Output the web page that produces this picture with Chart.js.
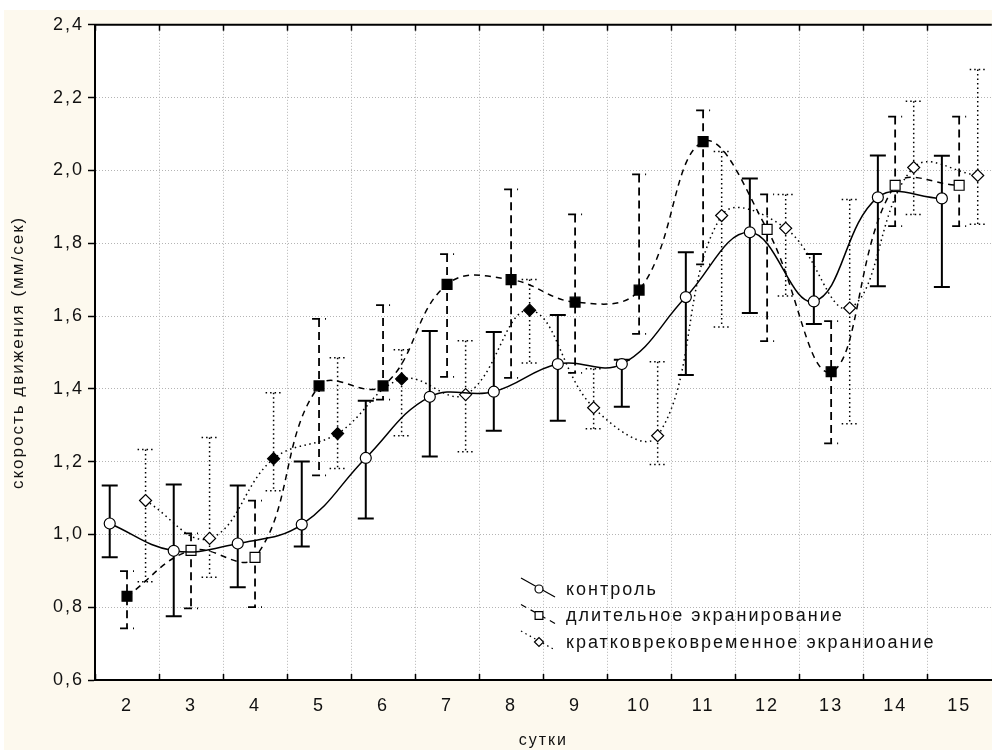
<!DOCTYPE html>
<html lang="ru">
<head>
<meta charset="utf-8">
<title>скорость движения</title>
<script src="https://cdn.jsdelivr.net/npm/chart.js@4.4.1/dist/chart.umd.min.js"></script>
<style>
  html, body { margin: 0; padding: 0; background: #fff; overflow: hidden; }
  #wrap { position: absolute; left: 4px; top: 10px; width: 996px; height: 740px; background: #fdf9ee; }
</style>
</head>
<body>
<div id="wrap"><canvas id="speedChart"></canvas></div>
<script>
// сутки (x categories) and y tick values
const days = [2, 3, 4, 5, 6, 7, 8, 9, 10, 11, 12, 13, 14, 15];
const yTicks = [0.6, 0.8, 1.0, 1.2, 1.4, 1.6, 1.8, 2.0, 2.2, 2.4];

// контроль
const ctrlMean = [1.03, 0.955, 0.975, 1.027, 1.21, 1.378, 1.392, 1.468, 1.468, 1.652, 1.83, 1.64, 1.926, 1.923];
const ctrlHi   = [1.134, 1.137, 1.134, 1.20, 1.367, 1.559, 1.556, 1.603, 1.48, 1.775, 1.978, 1.77, 2.041, 2.04];
const ctrlLo   = [0.937, 0.775, 0.855, 0.967, 1.044, 1.214, 1.285, 1.312, 1.351, 1.438, 1.608, 1.578, 1.682, 1.68];

// длительное экранирование (1 = filled marker)
const longMean = [0.83, 0.956, 0.937, 1.408, 1.408, 1.687, 1.70, 1.638, 1.671, 2.079, 1.838, 1.447, 1.959, 1.959];
const longHi   = [0.899, 1.003, 1.093, 1.592, 1.63, 1.77, 1.948, 1.879, 1.989, 2.165, 1.934, 1.586, 2.148, 2.148];
const longLo   = [0.742, 0.797, 0.80, 1.162, 1.37, 1.433, 1.43, 1.444, 1.551, 1.742, 1.531, 1.25, 1.847, 1.847];
const longSig  = [1, 0, 0, 1, 1, 1, 1, 1, 1, 1, 0, 1, 0, 0];

// кратковременное экранирование
const shortMean = [1.093, 0.989, 1.208, 1.277, 1.427, 1.384, 1.616, 1.348, 1.271, 1.876, 1.841, 1.622, 2.008, 1.986];
const shortHi   = [1.233, 1.266, 1.389, 1.485, 1.507, 1.532, 1.70, 1.455, 1.474, 2.052, 1.934, 1.92, 2.19, 2.277];
const shortLo   = [0.87, 0.882, 1.12, 1.181, 1.271, 1.227, 1.471, 1.29, 1.192, 1.57, 1.655, 1.304, 1.879, 1.852];
const shortSig  = [0, 0, 1, 1, 1, 0, 1, 0, 0, 0, 0, 0, 0, 0];

const FONT = '"Liberation Sans", Arial, sans-serif';
Chart.defaults.font.family = FONT;
Chart.defaults.font.size = 18;
Chart.defaults.color = '#111';

// series are drawn slightly apart inside each day
function points(mean, dx) {
    return days.map((d, i) => ({ x: d + dx, y: mean[i] }));
}

// vertical whiskers with caps, same dash as the series
const errorBars = {
    id: 'errorBars',
    beforeDatasetsDraw(chart) {
        const ctx = chart.ctx;
        const yScale = chart.scales.y;
        chart.data.datasets.forEach((ds, i) => {
            const meta = chart.getDatasetMeta(i);
            ctx.save();
            ctx.strokeStyle = '#000';
            ctx.lineWidth = ds.errWidth;
            ctx.setLineDash(ds.errDash);
            meta.data.forEach((pt, j) => {
                const top = yScale.getPixelForValue(ds.errHi[j]);
                const bot = yScale.getPixelForValue(ds.errLo[j]);
                ctx.beginPath();
                ctx.moveTo(pt.x, top);
                ctx.lineTo(pt.x, bot);
                ctx.moveTo(pt.x - ds.capHalf, top);
                ctx.lineTo(pt.x + ds.capHalf, top);
                ctx.moveTo(pt.x - ds.capHalf, bot);
                ctx.lineTo(pt.x + ds.capHalf, bot);
                ctx.stroke();
            });
            ctx.restore();
        });
    }
};

// white plot area, wide text spacing, top frame and inner ticks
const frame = {
    id: 'frame',
    beforeUpdate(chart) {
        chart.ctx.letterSpacing = '2px';
    },
    beforeDraw(chart) {
        const { ctx, chartArea: a } = chart;
        ctx.letterSpacing = '2px';
        ctx.save();
        ctx.fillStyle = '#fff';
        ctx.fillRect(a.left, a.top, a.right - a.left, a.bottom - a.top);
        ctx.restore();
    },
    afterDraw(chart) {
        const { ctx, chartArea: a } = chart;
        const xScale = chart.scales.x;
        ctx.save();
        ctx.strokeStyle = '#000';
        ctx.lineWidth = 2;
        ctx.beginPath();
        ctx.moveTo(a.left - 1, a.top);
        ctx.lineTo(a.right, a.top);
        ctx.stroke();
        ctx.lineWidth = 1.5;
        ctx.beginPath();
        xScale.ticks.forEach(t => {
            const px = Math.round(xScale.getPixelForValue(t.value)) + 0.5;
            ctx.moveTo(px, a.top);
            ctx.lineTo(px, a.top + 6);
            ctx.moveTo(px, a.bottom);
            ctx.lineTo(px, a.bottom - 6);
        });
        ctx.stroke();
        ctx.restore();
    }
};

// legend drawn inside the plot, Statistica style
const innerLegend = {
    id: 'innerLegend',
    afterDraw(chart, args, opts) {
        const ctx = chart.ctx;
        ctx.save();
        ctx.font = '18px ' + FONT;
        ctx.textBaseline = 'middle';
        ctx.textAlign = 'left';
        chart.data.datasets.forEach((ds, i) => {
            const y = opts.top + i * opts.rowHeight;
            const mx = opts.left;
            ctx.strokeStyle = '#000';
            ctx.lineWidth = 1.2;
            ctx.setLineDash(ds.borderDash);
            ctx.beginPath();
            ctx.moveTo(mx - 18, y - 11);
            ctx.lineTo(mx + 16, y + 8);
            ctx.stroke();
            ctx.setLineDash([]);
            ctx.fillStyle = '#fff';
            Chart.helpers.drawPoint(ctx, {
                pointStyle: ds.pointStyle, radius: ds.pointRadius - 1.5, borderWidth: 1.2, rotation: 0
            }, mx, y);
            ctx.fillStyle = '#111';
            ctx.fillText(ds.label, mx + 27, y + 1);
        });
        ctx.restore();
    }
};

const ctx = document.getElementById('speedChart').getContext('2d');

new Chart(ctx, {
    type: 'line',
    data: {
        datasets: [{
            label: 'контроль',
            data: points(ctrlMean, -0.27),
            errHi: ctrlHi, errLo: ctrlLo, errWidth: 2, errDash: [], capHalf: 8,
            borderColor: '#000',
            borderWidth: 1.5,
            borderDash: [],
            tension: 0.4,
            pointStyle: 'circle',
            pointRadius: 5.5,
            pointBorderWidth: 1.2,
            pointBorderColor: '#000',
            pointBackgroundColor: '#fff'
        }, {
            label: 'длительное экранирование',
            data: points(longMean, 0),
            errHi: longHi, errLo: longLo, errWidth: 1.8, errDash: [8, 5], capHalf: 7,
            borderColor: '#000',
            borderWidth: 1.5,
            borderDash: [6, 5],
            tension: 0.4,
            pointStyle: 'rect',
            pointRadius: 7,
            pointBorderWidth: 1.2,
            pointBorderColor: '#000',
            pointBackgroundColor: longSig.map(s => s ? '#000' : '#fff')
        }, {
            label: 'кратковрековременное экраниоание',
            data: points(shortMean, 0.29),
            errHi: shortHi, errLo: shortLo, errWidth: 1.5, errDash: [1.5, 3], capHalf: 8,
            borderColor: '#000',
            borderWidth: 1.5,
            borderDash: [1.5, 3.5],
            tension: 0.4,
            pointStyle: 'rectRot',
            pointRadius: 6,
            pointBorderWidth: 1.2,
            pointBorderColor: '#000',
            pointBackgroundColor: shortSig.map(s => s ? '#000' : '#fff')
        }]
    },
    options: {
        responsive: true,
        maintainAspectRatio: false,
        animation: false,
        events: [],
        layout: { padding: { top: 13, left: 0, right: 0, bottom: 0 } },
        scales: {
            x: {
                type: 'linear',
                min: 1.5,
                max: 15.51,
                afterBuildTicks: s => { s.ticks = days.map(d => ({ value: d - 0.5 })); },
                afterFit: s => { s.height = 70; },
                ticks: {
                    autoSkip: false,
                    maxRotation: 0,
                    labelOffset: 32,
                    padding: 15,
                    callback: (v, i) => String(days[i])
                },
                grid: { color: '#b4b4b4', lineWidth: 1, drawTicks: false },
                border: { color: '#000', width: 2, dash: [1, 2] },
                title: { display: true, text: 'сутки', font: { size: 16 }, padding: { top: 0, bottom: 0 } }
            },
            y: {
                min: 0.6,
                max: 2.4,
                afterBuildTicks: s => { s.ticks = yTicks.map(v => ({ value: v })); },
                afterFit: s => { s.width = 91; },
                ticks: {
                    padding: 4,
                    callback: v => v.toFixed(1).replace('.', ',')
                },
                grid: { color: '#b4b4b4', lineWidth: 1, tickLength: 7, tickColor: '#000', tickWidth: 1.5, tickBorderDash: [] },
                border: { color: '#000', width: 2, dash: [1, 2] },
                title: { display: true, text: 'скорость движения (мм/сек)', font: { size: 17 }, padding: { top: 4, bottom: 0 } }
            }
        },
        plugins: {
            legend: { display: false },
            tooltip: { enabled: false },
            innerLegend: { left: 535, top: 579, rowHeight: 26.5 }
        }
    },
    plugins: [frame, errorBars, innerLegend]
});
</script>
</body>
</html>
